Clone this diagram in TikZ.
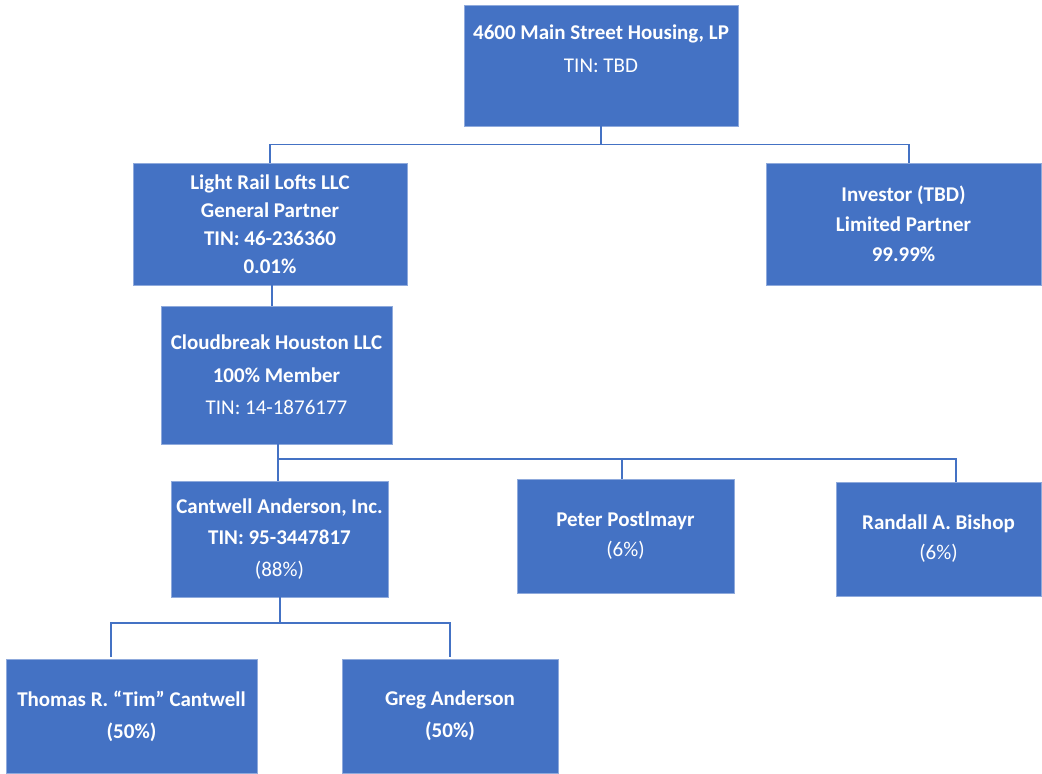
\documentclass[tikz,border=0pt]{standalone}
\usepackage{fontspec}
\setmainfont{Carlito}
\definecolor{boxblue}{HTML}{4472C4}
\definecolor{boxedge}{HTML}{8FAADC}
\begin{document}
\begin{tikzpicture}[x=1pt,y=-1pt,
  orgbox/.style={fill=boxblue, draw=boxedge, line width=0.6pt, text=white, align=center, inner sep=0pt, font=\fontsize{21}{30}\selectfont},
  link/.style={draw=boxblue, line width=1.4pt}]
\useasboundingbox (0,0) rectangle (1042,774);
\node[orgbox, minimum width=274pt, minimum height=121pt, font=\fontsize{21}{33}\selectfont] (top) at (601,65.5) {\textbf{4600 Main Street Housing, LP}\\TIN: TBD\\\mbox{}};
\node[orgbox, minimum width=274pt, minimum height=122pt, font=\fontsize{21}{28}\selectfont] (lr) at (270,224) {\textbf{Light Rail Lofts LLC}\\\textbf{General Partner}\\\textbf{TIN: 46-236360}\\\textbf{0.01\%}};
\node[orgbox, minimum width=275pt, minimum height=122pt] (inv) at (903.5,224) {\textbf{Investor (TBD)}\\\textbf{Limited Partner}\\\textbf{99.99\%}};
\node[orgbox, minimum width=231pt, minimum height=138pt, font=\fontsize{21}{32.5}\selectfont] (cb) at (276.5,375) {\textbf{Cloudbreak Houston LLC}\\\textbf{100\% Member}\\TIN: 14-1876177};
\node[orgbox, minimum width=217pt, minimum height=116pt, font=\fontsize{21}{31.5}\selectfont] (ca) at (279.5,539) {\textbf{Cantwell Anderson, Inc.}\\\textbf{TIN: 95-3447817}\\(88\%)};
\node[orgbox, minimum width=217pt, minimum height=114pt] (pp) at (625.5,536) {\textbf{Peter Postlmayr}\\(6\%)};
\node[orgbox, minimum width=205pt, minimum height=114pt] (rb) at (938.5,539) {\textbf{Randall A. Bishop}\\(6\%)};
\node[orgbox, minimum width=251pt, minimum height=114pt, font=\fontsize{21}{32}\selectfont] (tc) at (131.5,716) {\textbf{Thomas R. “Tim” Cantwell}\\\textbf{(50\%)}};
\node[orgbox, minimum width=216pt, minimum height=114pt, font=\fontsize{21}{32}\selectfont] (ga) at (450,716) {\textbf{Greg Anderson}\\\textbf{(50\%)}};
% level 1
\coordinate (j1) at ([yshift=-18]top.south);
\draw[link] (top.south) -- (j1);
\draw[link] (j1) -| (lr.north);
\draw[link] (j1) -| ([xshift=5.5]inv.north);
% lr to cb
\draw[link] ([xshift=2]lr.south) -- ([xshift=2]lr.south |- cb.north);
% cb to children
\coordinate (j2) at (278,459);
\draw[link] (j2 |- cb.south) -- (j2 |- ca.north);
\draw[link] (j2) -- (957,459);
\draw[link] (pp.north -| 622,0) -- (622,459);
\draw[link] ([xshift=17.5]rb.north) -- (956,459);
% ca to grandchildren
\coordinate (j3) at (280,623);
\draw[link] (j3 |- ca.south) -- (j3);
\draw[link] (j3) -- (111,623) -- ([xshift=-20.5,yshift=2]tc.north);
\draw[link] (j3) -| ([yshift=2]ga.north);
\end{tikzpicture}
\end{document}
